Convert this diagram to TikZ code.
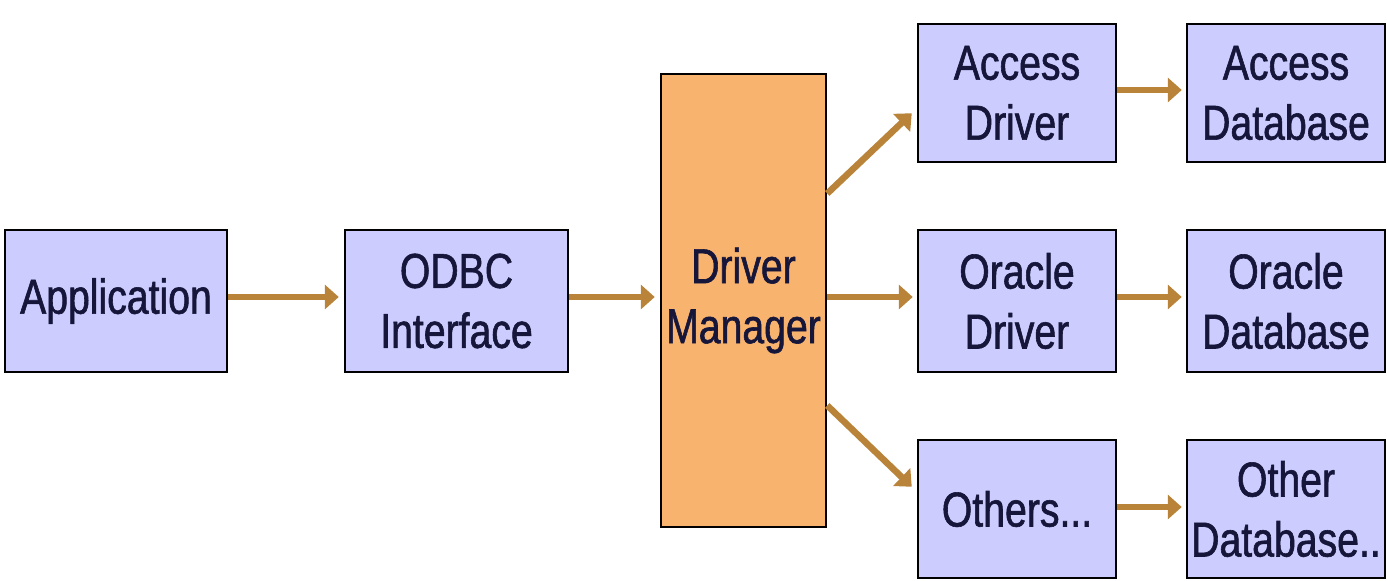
\documentclass[tikz,border=0pt]{standalone}
\usepackage{fontspec}
\setmainfont[FakeStretch=0.8,FakeBold=1.2]{Liberation Sans}
\usetikzlibrary{arrows.meta,calc}
\definecolor{boxblue}{HTML}{CCCCFF}
\definecolor{mgrorange}{HTML}{F8B36F}
\definecolor{arrowc}{HTML}{B9843A}
\definecolor{txtc}{HTML}{16163A}
\begin{document}
\begin{tikzpicture}[x=1pt,y=1pt,
  box/.style={draw=black,line width=2.5pt,fill=boxblue,inner sep=0pt,
    text=txtc,align=center,font=\fontsize{49}{60}\selectfont},
  mgr/.style={box,fill=mgrorange},
  conn/.style={draw=arrowc,line width=6.5pt,-{Triangle[length=14pt,width=24pt]}}]
\useasboundingbox[fill=white] (0,0) rectangle (1387,-581);
\node[box,minimum width=222pt,minimum height=142pt] (app) at (116,-301) {Application};
\node[box,minimum width=223pt,minimum height=142pt] (odbc) at (456.5,-301) {ODBC\\Interface};
\node[mgr,minimum width=165pt,minimum height=453pt] (dm) at (743.5,-300.5) {Driver\\Manager};
\node[box,minimum width=198pt,minimum height=138pt] (ad) at (1017,-93) {Access\\Driver};
\node[box,minimum width=198pt,minimum height=138pt] (adb) at (1286,-93) {Access\\Database};
\node[box,minimum width=198pt,minimum height=142pt] (od) at (1017,-301) {Oracle\\Driver};
\node[box,minimum width=198pt,minimum height=142pt] (odb) at (1286,-301) {Oracle\\Database};
\node[box,minimum width=198pt,minimum height=138pt] (oth) at (1017,-509) {Others...};
\node[box,minimum width=198pt,minimum height=138pt] (othdb) at (1286,-509) {Other\\Database..};
\draw[conn,shorten >=5pt] ($(app.east)+(0,4)$) -- ($(odbc.west)+(0,4)$);
\draw[conn,shorten >=5pt] ($(odbc.east)+(0,4)$) -- ($(dm.west |- odbc.west)+(0,4)$);
\draw[conn,shorten >=4pt] ($(dm.east |- od.west)+(0,4)$) -- ($(od.west)+(0,4)$);
\draw[conn] ($(dm.east)+(0,107)$) -- ($(ad.south west)+(-5,50)$);
\draw[conn] ($(dm.east)+(0,-105)$) -- ($(oth.north west)+(-5,-48)$);
\draw[conn,shorten >=4pt] ($(ad.east)+(0,3)$) -- ($(adb.west)+(0,3)$);
\draw[conn,shorten >=4pt] ($(od.east)+(0,4)$) -- ($(odb.west)+(0,4)$);
\draw[conn,shorten >=4pt] ($(oth.east)+(0,2)$) -- ($(othdb.west)+(0,2)$);
\end{tikzpicture}
\end{document}
